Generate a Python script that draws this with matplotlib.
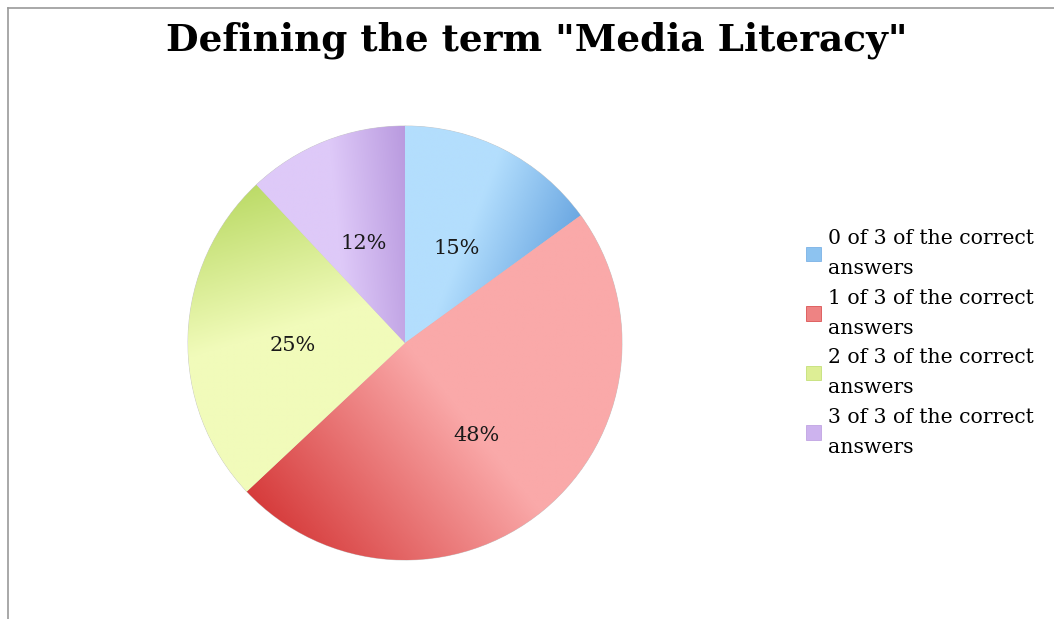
import numpy as np
import matplotlib
matplotlib.use("Agg")
import matplotlib.pyplot as plt
from matplotlib.colors import LinearSegmentedColormap
from matplotlib.lines import Line2D
from matplotlib.patches import Patch

title = 'Defining the term "Media Literacy"'
categories = ["0 of 3 of the correct\nanswers",
              "1 of 3 of the correct\nanswers",
              "2 of 3 of the correct\nanswers",
              "3 of 3 of the correct\nanswers"]
values = [15, 48, 25, 12]
pct_labels = ["15%", "48%", "25%", "12%"]

light = ["#B3DEFD", "#FAA9A9", "#F1FBBA", "#DEC9F8"]
dark = ["#6CA8E2", "#D63C3C", "#BCDB68", "#B99ADF"]
mid = ["#8DC3F0", "#EE8383", "#DDEE95", "#CDB3EE"]
# gradient direction light -> dark (data coords)
dirs = [(1.0, -0.4), (-1.0, -0.8), (-0.3, 1.0), (1.0, 0.1)]

plt.rcParams['font.family'] = ['DejaVu Serif']

W, H = 1054, 619
fig = plt.figure(figsize=(W / 100, H / 100), dpi=100)

# frame lines (top and left)
fig.add_artist(Line2D([8 / W, 8 / W], [0, 1 - 8 / H], transform=fig.transFigure,
                      color="#9a9a9a", lw=1.2))
fig.add_artist(Line2D([8 / W, 1], [1 - 8 / H, 1 - 8 / H], transform=fig.transFigure,
                      color="#9a9a9a", lw=1.2))

cx, cy, r = 405, 343, 217
ax = fig.add_axes([(cx - r) / W, (H - cy - r) / H, 2 * r / W, 2 * r / H])
wedges, _ = ax.pie(values, startangle=90, counterclock=False, colors=mid,
                   wedgeprops=dict(edgecolor="#c8c8c8", linewidth=0.6))
ax.set_xlim(-1.0, 1.0)
ax.set_ylim(-1.0, 1.0)
ax.set_aspect('equal')
ax.axis('off')

xs = np.linspace(-1, 1, 500)
X, Y = np.meshgrid(xs, xs)
for w, lc, dc, (dx, dy) in zip(wedges, light, dark, dirs):
    n = np.hypot(dx, dy)
    g = (X * dx + Y * dy) / n
    verts = w.get_path().vertices
    gv = (verts[:, 0] * dx + verts[:, 1] * dy) / n
    gmin, gmax = gv.min(), gv.max()
    cmap = LinearSegmentedColormap.from_list("g", [lc, lc, dc])
    im = ax.imshow(g, extent=[-1, 1, -1, 1], origin='lower', cmap=cmap,
                   vmin=gmin, vmax=gmax, zorder=1.5, interpolation='bilinear')
    im.set_clip_path(w)

# percentage labels
start = 90.0
total = sum(values)
for v, lab in zip(values, pct_labels):
    ang = np.deg2rad(start - v / total * 180.0)
    start -= v / total * 360.0
    ax.text(0.52 * np.cos(ang), 0.52 * np.sin(ang) - 0.027, lab, ha='center',
            va='center', fontsize=15, color="#1a1a1a", zorder=3)

fig.text(537 / W, 1 - 40 / H, title, ha='center', va='center', fontsize=27,
         fontweight='bold', color='black')

handles = [Patch(facecolor=m, edgecolor=d, linewidth=0.5) for m, d in zip(mid, dark)]
leg = fig.legend(handles, categories, loc='upper left',
                 bbox_to_anchor=(796 / W, 1 - 219 / H), frameon=False,
                 fontsize=14.7, handlelength=0.7, handleheight=0.7,
                 handletextpad=0.35, labelspacing=0.5, borderpad=0)
for t in leg.get_texts():
    t.set_linespacing(1.75)

fig.savefig("out.png", dpi=100)
